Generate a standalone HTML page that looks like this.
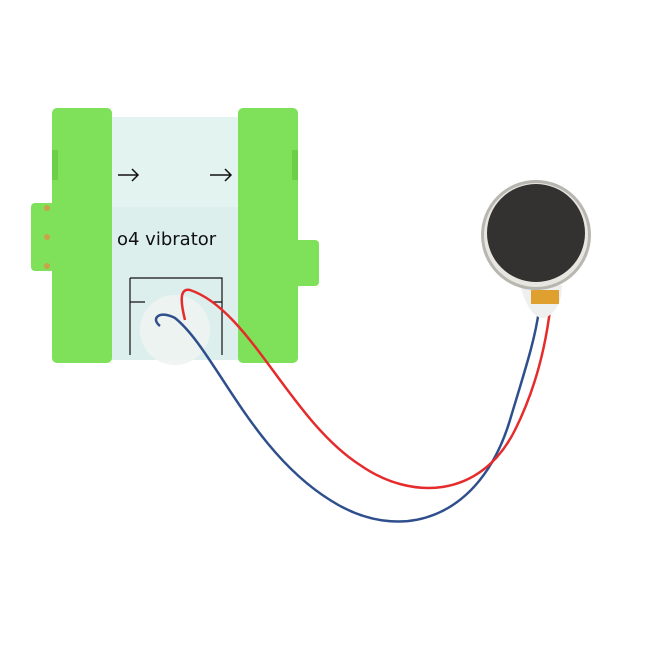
<!DOCTYPE html>
<html><head><style>body{margin:0;background:#fff}</style></head><body>
<svg width="650" height="650" viewBox="0 0 650 650" xmlns="http://www.w3.org/2000/svg">
<rect width="650" height="650" fill="#fff"/>
<rect x="31" y="203" width="24" height="68" rx="4" fill="#7fe05a"/>
<circle cx="47" cy="208" r="3" fill="#c9a24a"/><circle cx="47" cy="237" r="3" fill="#c9a24a"/><circle cx="47" cy="266" r="3" fill="#c9a24a"/>
<rect x="292" y="240" width="27" height="46" rx="4" fill="#7fe05a"/>
<rect x="110" y="117" width="132" height="243" fill="#dcefec"/>
<rect x="110" y="117" width="132" height="90" fill="#e3f3f0"/>
<path d="M130 278 H222 V355 M130 278 V355 M130 302 H145 M212 302 H222" stroke="#111" stroke-width="1.2" fill="none"/>
<circle cx="175" cy="330" r="35" fill="#eef3f2" opacity="0.9"/>
<path d="M118 175 H138 M132 169 L138 175 L132 181 M210 175 H231 M225 169 L231 175 L225 181" stroke="#111" stroke-width="1.5" fill="none"/>
<text x="117" y="245" font-family="DejaVu Sans,sans-serif" font-size="18" fill="#111">o4 vibrator</text>
<rect x="52" y="108" width="60" height="255" rx="5" fill="#7fe05a"/>
<rect x="238" y="108" width="60" height="255" rx="5" fill="#7fe05a"/>
<rect x="52" y="150" width="6" height="30" fill="#6bcf48"/><rect x="292" y="150" width="6" height="30" fill="#6bcf48"/>
<path d="M160 326 C150 318,160 310,175 318 C215 350,250 450,330 500 C400 545,480 520,510 420 C525 370,535 340,539 310" stroke="#2f4f8c" stroke-width="2.5" fill="none"/>
<path d="M185 320 C180 300,180 288,190 290 C250 310,290 420,360 465 C410 500,480 500,515 430 C535 390,545 350,550 310" stroke="#e52b2b" stroke-width="2.5" fill="none"/>
<path d="M520 285 Q530 320 545 318 Q562 310 562 285 Z" fill="#eef0f0"/>
<rect x="531" y="290" width="28" height="14" fill="#e0a030"/>
<circle cx="536" cy="235" r="55" fill="#b8b6b0"/>
<circle cx="536" cy="235" r="52" fill="#e8e6e0"/>
<circle cx="536" cy="233" r="49" fill="#343230"/>
</svg>
</body></html>
